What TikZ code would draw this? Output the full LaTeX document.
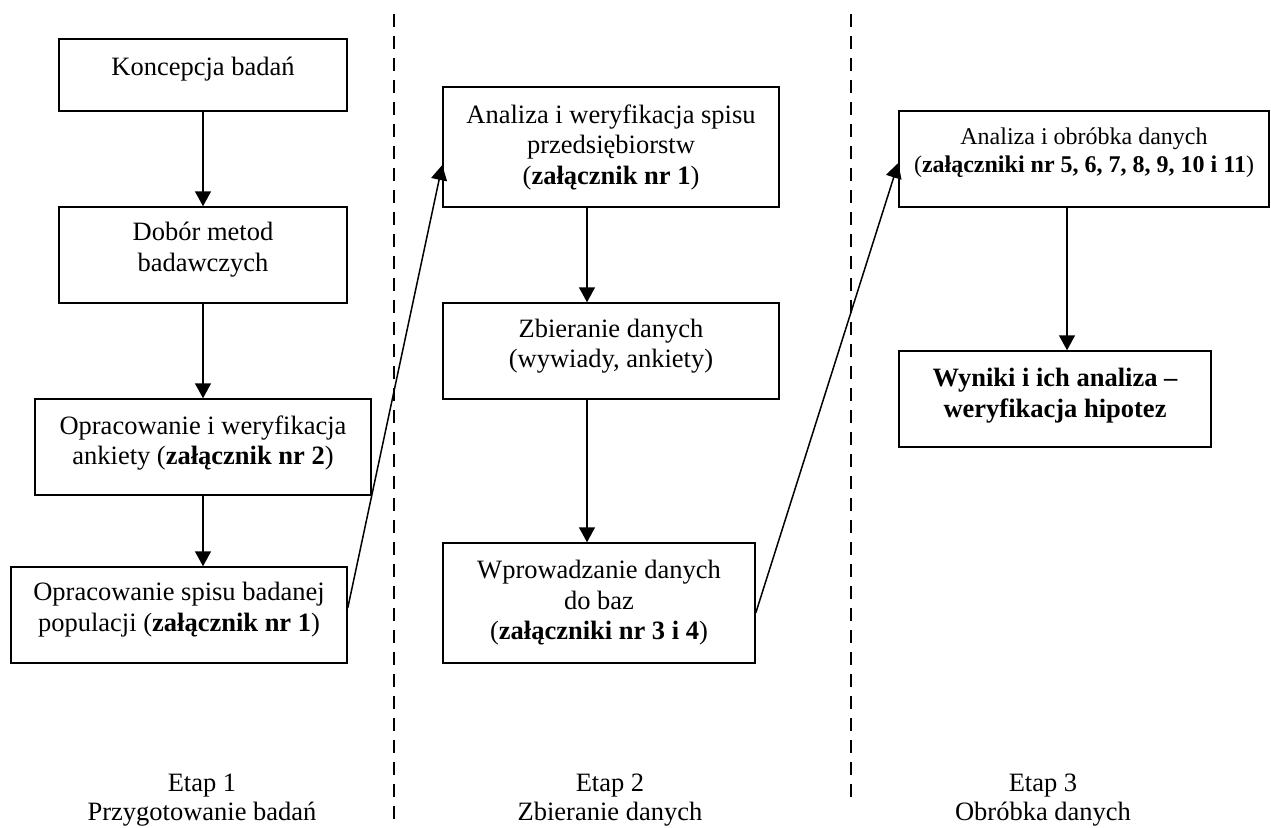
\documentclass[tikz,border=0pt]{standalone}
\usepackage{fontspec}
\setmainfont{Liberation Serif}
\usetikzlibrary{arrows.meta}
\begin{document}
\begin{tikzpicture}[x=1pt,y=-1pt,
  box/.style={draw, line width=1.5pt, inner sep=0pt, align=center,
    font=\fontsize{26.5}{30.5}\selectfont},
  smallbox/.style={box, font=\fontsize{24}{28.5}\selectfont},
  arr/.style={line width=1.5pt, -{Triangle[width=16pt,length=15pt]}},
  sep/.style={line width=1.5pt, dash pattern=on 13pt off 9pt},
  lab/.style={align=center, inner sep=0pt, font=\fontsize{26.5}{29}\selectfont}]
\useasboundingbox (0,0) rectangle (1271,827);

% separators
\draw[sep] (394,14) -- (394,827);
\draw[sep] (851,14) -- (851,800);

% column 1
\node[box, minimum width=288pt, minimum height=72pt, text depth=17pt] (k) at (203,75) {Koncepcja badań};
\node[box, minimum width=288pt, minimum height=96pt, text depth=16pt] (d) at (203,255) {Dobór metod\\badawczych};
\node[box, minimum width=336pt, minimum height=96pt, text depth=14pt] (o1) at (203,447) {Opracowanie i weryfikacja\\ankiety (\textbf{załącznik nr 2})};
\node[box, minimum width=336pt, minimum height=96pt, text depth=16pt] (o2) at (179,615) {Opracowanie spisu badanej\\populacji (\textbf{załącznik nr 1})};

% column 2
\node[box, minimum width=336pt, minimum height=120pt] (a) at (611,147) {Analiza i weryfikacja spisu\\przedsiębiorstw\\(\textbf{załącznik nr 1})};
\node[box, minimum width=336pt, minimum height=96pt, text depth=15pt] (z) at (611,351) {Zbieranie danych\\(wywiady, ankiety)};
\node[box, minimum width=312pt, minimum height=120pt] (w) at (599,603) {Wprowadzanie danych\\do baz\\(\textbf{załączniki nr 3 i 4})};

% column 3
\node[smallbox, minimum width=370pt, minimum height=96pt, text depth=18pt] (an) at (1084,159) {Analiza i obróbka danych\\(\textbf{załączniki nr 5, 6, 7, 8, 9, 10 i 11})};
\node[box, minimum width=312pt, minimum height=96pt, text depth=12pt, font=\fontsize{26.5}{30.5}\selectfont\bfseries] (wy) at (1055,399) {Wyniki i ich analiza –\\weryfikacja hipotez};

% stage labels
\node[lab] (e1) at (202,800.5) {Etap 1\\Przygotowanie badań};
\node[lab] (e2) at (610,800.5) {Etap 2\\Zbieranie danych};
\node[lab] (e3) at (1043,800.5) {Etap 3\\Obróbka danych};

% arrows
\draw[arr] (k.south) -- (d.north);
\draw[arr] (d.south) -- (d.south |- o1.north);
\draw[arr] (o1.south) -- (o1.south |- o2.north);
\draw[arr] ([yshift=7pt]o2.east) -- ([yshift=-18pt]a.west);
\draw[arr] ([xshift=-24pt]a.south) -- ([xshift=-24pt]a.south |- z.north);
\draw[arr] ([xshift=-24pt]z.south) -- ([xshift=-24pt]z.south |- w.north);
\draw[arr] ([yshift=-10pt]w.east) -- ([yshift=-4pt]an.west);
\draw[arr] ([xshift=-17pt]an.south) -- ([xshift=-17pt]an.south |- wy.north);
\end{tikzpicture}
\end{document}
